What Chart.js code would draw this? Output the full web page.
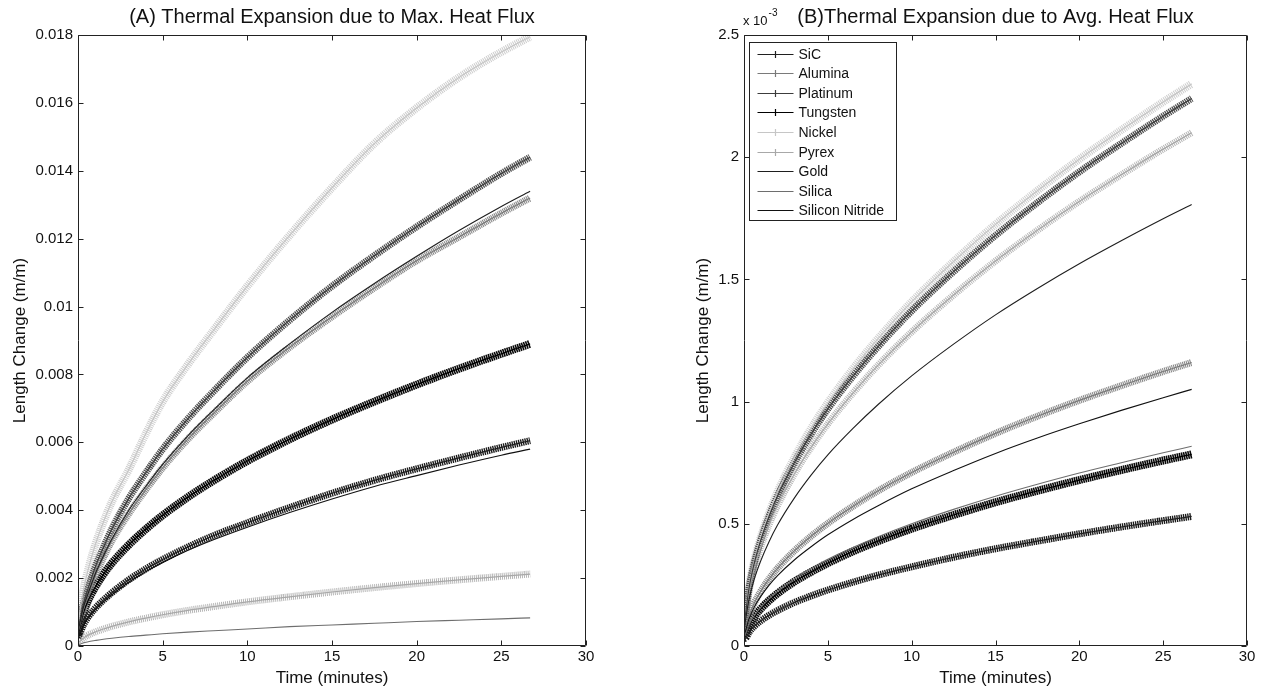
<!DOCTYPE html>
<html><head><meta charset="utf-8">
<script src="https://cdn.jsdelivr.net/npm/chart.js@4.4.1/dist/chart.umd.min.js"></script>
<style>
html,body{margin:0;padding:0;background:#fff;width:1270px;height:690px;overflow:hidden}
canvas{position:absolute;top:0}
#ca{left:0}
#cb{left:635px}
</style></head><body>
<canvas id="ca" width="635" height="690"></canvas>
<canvas id="cb" width="635" height="690"></canvas>
<script>
const FONT = "'Liberation Sans', Arial, Helvetica, sans-serif";

// ---------- DATA ----------
const times = [0, 0.1, 0.3, 0.6, 1, 1.5, 2, 3, 4, 5, 6.5, 8, 10, 12.5, 15, 17.5, 20, 22.5, 25, 26.7];
const seriesNames = ['SiC','Alumina','Platinum','Tungsten','Nickel','Pyrex','Gold','Silica','Silicon Nitride'];

// (A) Max heat flux, length change in m/m
const aSiC      = [0.00025,0.00035,0.0006,0.00085,0.0011,0.00135,0.00157,0.00195,0.00227,0.00255,0.00292,0.00325,0.00363,0.00408,0.0045,0.00488,0.00522,0.00554,0.00585,0.00605];
const aAlumina  = [0.0004,0.0006,0.00105,0.0015,0.00205,0.0026,0.0031,0.0039,0.0046,0.00525,0.0061,0.00685,0.0078,0.0088,0.0097,0.01055,0.01135,0.01205,0.01275,0.0132];
const aPlatinum = [0.0005,0.0007,0.0012,0.0017,0.0023,0.0029,0.00345,0.00435,0.0051,0.0058,0.0067,0.0075,0.0085,0.0096,0.0106,0.0115,0.01235,0.01315,0.01392,0.0144];
const aTungsten = [0.00035,0.00054,0.00094,0.00134,0.00172,0.00211,0.00244,0.00298,0.00344,0.00385,0.00439,0.00487,0.00545,0.00609,0.00667,0.0072,0.0077,0.00817,0.00861,0.0089];
const aNickel   = [0.0005,0.001,0.0016,0.00225,0.00295,0.00365,0.00425,0.0052,0.00625,0.0072,0.0083,0.0093,0.0106,0.0121,0.0135,0.0148,0.01585,0.01675,0.0175,0.01795];
const aPyrex    = [0.00008,0.00013,0.00022,0.00032,0.00041,0.0005,0.00058,0.00071,0.00082,0.00092,0.00105,0.00116,0.0013,0.00145,0.00159,0.00172,0.00184,0.00195,0.00205,0.00212];
const aGold     = [0.00045,0.00065,0.0011,0.00155,0.0021,0.00265,0.00315,0.004,0.0047,0.00535,0.0062,0.00695,0.0079,0.0089,0.00983,0.01068,0.01148,0.01224,0.01295,0.0134];
const aSilica   = [0.00002,0.00005,0.00009,0.000125,0.00016,0.0002,0.00023,0.00028,0.00032,0.00036,0.00041,0.00045,0.0005,0.00057,0.00062,0.00067,0.00072,0.00076,0.0008,0.00083];
const aSiN      = [0.0002,0.00033,0.00058,0.00082,0.00106,0.0013,0.00151,0.00188,0.00219,0.00246,0.00282,0.00313,0.0035,0.00393,0.00433,0.0047,0.00502,0.00533,0.00562,0.0058];

// (B) Avg heat flux, length change in units of 1e-3 m/m
const bSiC      = [0.03,0.032,0.056,0.08,0.103,0.126,0.145,0.178,0.205,0.229,0.261,0.29,0.324,0.363,0.398,0.429,0.459,0.487,0.513,0.53];
const bAlumina  = [0.05,0.071,0.123,0.174,0.224,0.275,0.318,0.389,0.449,0.502,0.572,0.635,0.71,0.793,0.87,0.94,1.005,1.065,1.123,1.16];
const bPlatinum = [0.09,0.137,0.237,0.336,0.433,0.531,0.614,0.75,0.867,0.97,1.104,1.225,1.371,1.532,1.68,1.814,1.94,2.056,2.168,2.24];
const bTungsten = [0.04,0.048,0.083,0.118,0.152,0.186,0.215,0.263,0.303,0.339,0.387,0.429,0.48,0.536,0.588,0.635,0.679,0.72,0.759,0.784];
const bNickel   = [0.1,0.14,0.244,0.345,0.445,0.545,0.63,0.77,0.89,0.995,1.134,1.258,1.408,1.573,1.725,1.863,1.992,2.111,2.226,2.3];
const bPyrex    = [0.08,0.129,0.223,0.315,0.406,0.498,0.575,0.704,0.813,0.909,1.035,1.149,1.285,1.436,1.575,1.701,1.819,1.928,2.033,2.1];
const bGold     = [0.06,0.11,0.191,0.271,0.349,0.428,0.495,0.605,0.699,0.782,0.89,0.988,1.105,1.235,1.355,1.463,1.564,1.658,1.748,1.806];
const bSilica   = [0.04,0.05,0.087,0.123,0.158,0.194,0.224,0.274,0.316,0.354,0.403,0.447,0.5,0.559,0.613,0.662,0.708,0.75,0.791,0.817];
const bSiN      = [0.04,0.064,0.111,0.158,0.203,0.249,0.288,0.352,0.406,0.455,0.518,0.574,0.643,0.718,0.788,0.851,0.909,0.964,1.016,1.05];

const xTicks = [0, 5, 10, 15, 20, 25, 30];
const aYTicks = [0, 0.002, 0.004, 0.006, 0.008, 0.01, 0.012, 0.014, 0.016, 0.018];
const aYTickLabels = ['0','0.002','0.004','0.006','0.008','0.01','0.012','0.014','0.016','0.018'];
const bYTicks = [0, 0.5, 1, 1.5, 2, 2.5];
const bYTickLabels = ['0','0.5','1','1.5','2','2.5'];
const titleA = '(A) Thermal Expansion due to Max. Heat Flux';
const titleB = '(B)Thermal Expansion due to Avg. Heat Flux';
const xTitle = 'Time (minutes)';
const yTitle = 'Length Change (m/m)';
const bExponent = ['x 10', '-3'];

const valuesA = {'SiC':aSiC,'Alumina':aAlumina,'Platinum':aPlatinum,'Tungsten':aTungsten,'Nickel':aNickel,'Pyrex':aPyrex,'Gold':aGold,'Silica':aSilica,'Silicon Nitride':aSiN};
const valuesB = {'SiC':bSiC,'Alumina':bAlumina,'Platinum':bPlatinum,'Tungsten':bTungsten,'Nickel':bNickel,'Pyrex':bPyrex,'Gold':bGold,'Silica':bSilica,'Silicon Nitride':bSiN};

// ---------- STYLE ----------
const styles = {
  'SiC':            {marker:true, color:'#202020', band:'#1a1a1a', w:7, dash:[1.4,0.8]},
  'Alumina':        {marker:true, color:'#7a7a7a', band:'#8a8a8a', w:7, dash:[1.1,0.8]},
  'Platinum':       {marker:true, color:'#3c3c3c', band:'#4e4e4e', w:7, dash:[1.3,0.8]},
  'Tungsten':       {marker:true, color:'#000000', band:'#080808', w:8, dash:[1.6,0.6]},
  'Nickel':         {marker:true, color:'#c6c6c6', band:'#cdcdcd', w:8, dash:[1.0,1.0]},
  'Pyrex':          {marker:true, color:'#a8a8a8', band:'#b6b6b6', w:7, dash:[1.0,1.0]},
  'Gold':           {marker:false, color:'#1e1e1e', w:1.1},
  'Silica':         {marker:false, color:'#6e6e6e', w:1.1},
  'Silicon Nitride':{marker:false, color:'#111111', w:1.1}
};

function buildDatasets(vals){
  const ds = [];
  seriesNames.forEach(name => {
    const st = styles[name];
    const pts = times.map((t,i) => ({x:t, y:vals[name][i]}));
    const common = {pointRadius:0, pointHoverRadius:0, fill:false, cubicInterpolationMode:'monotone', tension:0.4};
    if (st.marker) {
      ds.push(Object.assign({label:name+'#band', data:pts, borderColor:st.band, borderWidth:st.w, borderDash:st.dash, order:3}, common));
      ds.push(Object.assign({label:name, data:pts, borderColor:st.color, borderWidth:1.2, order:2}, common));
    } else {
      ds.push(Object.assign({label:name, data:pts, borderColor:st.color, borderWidth:st.w, order:1}, common));
    }
  });
  return ds;
}

const framePlugin = {
  id:'frame',
  afterDatasetsDraw(chart){
    const {ctx, chartArea:{left,right,top,bottom}, scales:{x,y}} = chart;
    const L=Math.round(left)+0.5, R=Math.round(right)-0.5, T=Math.round(top)+0.5, B=Math.round(bottom)-0.5;
    ctx.save();
    ctx.strokeStyle='#222'; ctx.lineWidth=1;
    ctx.beginPath();
    ctx.rect(L,T,R-L,B-T);
    x.ticks.forEach(tk => {
      const px = Math.round(x.getPixelForValue(tk.value))+0.5;
      ctx.moveTo(px,B); ctx.lineTo(px,B-5);
      ctx.moveTo(px,T); ctx.lineTo(px,T+5);
    });
    y.ticks.forEach(tk => {
      const py = Math.round(y.getPixelForValue(tk.value))+0.5;
      ctx.moveTo(L,py); ctx.lineTo(L+5,py);
      ctx.moveTo(R,py); ctx.lineTo(R-5,py);
    });
    ctx.stroke();
    ctx.restore();
  },
  afterDraw(chart, args, opts){
    const {ctx, chartArea:{left,right,top}} = chart;
    ctx.save();
    ctx.fillStyle='#111';
    ctx.font = '20px ' + FONT;
    ctx.textAlign='center'; ctx.textBaseline='middle';
    ctx.fillText(opts.title, (left+right)/2, 17);
    if (opts.exponent) {
      ctx.textAlign='left'; ctx.textBaseline='alphabetic';
      ctx.font = '13px ' + FONT;
      ctx.fillText(opts.exponent[0], left-1, 25);
      const w = ctx.measureText(opts.exponent[0]).width;
      ctx.font = '10px ' + FONT;
      ctx.fillText(opts.exponent[1], left-1+w+1, 16);
    }
    if (opts.legend) {
      const bx = Math.round(left)+5.5, by = Math.round(top)+7.5, bw = 147, bh = 178;
      ctx.fillStyle='#fff'; ctx.fillRect(bx,by,bw,bh);
      ctx.strokeStyle='#222'; ctx.lineWidth=1; ctx.strokeRect(bx,by,bw,bh);
      ctx.font = '14px ' + FONT; ctx.textAlign='left'; ctx.textBaseline='middle';
      seriesNames.forEach((name,i) => {
        const st = styles[name];
        const yy = Math.round(by + 11 + i*19.6)+0.5;
        const x1 = bx+8, x2 = bx+44, xm = (x1+x2)/2;
        ctx.strokeStyle = st.color; ctx.lineWidth = 1.2;
        ctx.beginPath(); ctx.moveTo(x1,yy); ctx.lineTo(x2,yy); ctx.stroke();
        if (st.marker) {
          ctx.beginPath(); ctx.moveTo(xm,yy-3.5); ctx.lineTo(xm,yy+3.5); ctx.moveTo(xm-3,yy); ctx.lineTo(xm+3,yy); ctx.stroke();
        }
        ctx.fillStyle='#111';
        ctx.fillText(name, bx+49, yy+0.5);
      });
    }
    ctx.restore();
  }
};

function makeChart(id, vals, yTicks, yLabels, yMax, opts){
  return new Chart(document.getElementById(id), {
    type:'line',
    data:{datasets:buildDatasets(vals)},
    options:{
      responsive:false, animation:false, devicePixelRatio:1,
      layout:{autoPadding:false, padding:{top:35, left:0, right:opts.padRight, bottom:0}},
      plugins:{legend:{display:false}, tooltip:{enabled:false}, title:{display:false},
        frame:{title:opts.title, exponent:opts.exponent, legend:opts.legend}},
      scales:{
        x:{type:'linear', min:0, max:30,
          afterBuildTicks(s){ s.ticks = xTicks.map(v=>({value:v})); },
          afterFit(s){ s.height = 44; },
          grid:{display:false, drawTicks:false}, border:{display:false},
          ticks:{padding:2, color:'#111', font:{family:FONT, size:15}, callback:(v)=>String(v), maxRotation:0, autoSkip:false},
          title:{display:true, text:xTitle, color:'#111', font:{family:FONT, size:17}, padding:{top:0,bottom:1.8}}
        },
        y:{type:'linear', min:0, max:yMax,
          afterBuildTicks(s){ s.ticks = yTicks.map(v=>({value:v})); },
          afterFit(s){ s.width = opts.yWidth; },
          grid:{display:false, drawTicks:false}, border:{display:false},
          ticks:{padding:5, color:'#111', font:{family:FONT, size:15}, autoSkip:false,
            callback:(v)=>{ const i = yTicks.findIndex(t=>Math.abs(t-v)<1e-9); return i>=0 ? yLabels[i] : ''; }},
          title:{display:true, text:yTitle, color:'#111', font:{family:FONT, size:17}, padding:{top:opts.yTitlePad, bottom:0}}
        }
      }
    },
    plugins:[framePlugin]
  });
}

makeChart('ca', valuesA, aYTicks, aYTickLabels, 0.018, {padRight:49, yWidth:78, yTitlePad:9.8, title:titleA, exponent:null, legend:false});
makeChart('cb', valuesB, bYTicks, bYTickLabels, 2.5, {padRight:23, yWidth:109, yTitlePad:57.8, title:titleB, exponent:bExponent, legend:true});
</script>
</body></html>
